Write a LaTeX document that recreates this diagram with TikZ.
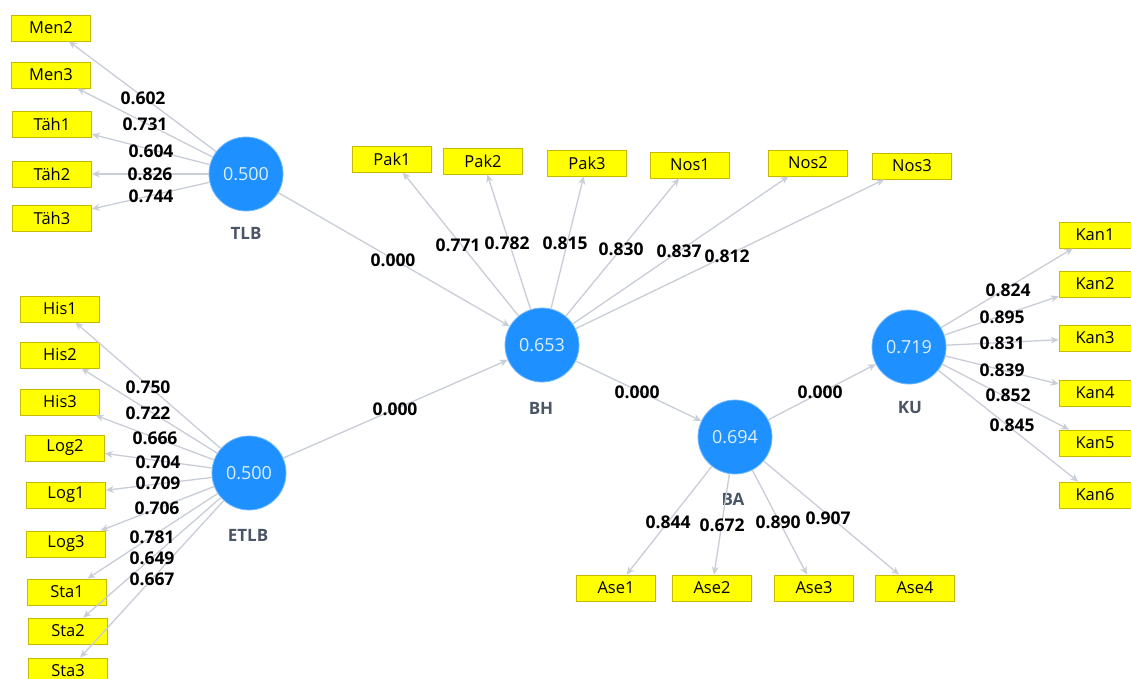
\documentclass[tikz,border=0pt]{standalone}
\usepackage{fontspec}
\setmainfont{Open Sans}
\usetikzlibrary{arrows.meta}
\definecolor{lv}{HTML}{1E90FF}
\definecolor{lvrim}{HTML}{6FB8FF}
\definecolor{ln}{HTML}{C8CDD8}
\definecolor{indy}{HTML}{FFFF00}
\definecolor{indb}{HTML}{C9B800}
\definecolor{lvlab}{HTML}{4A5565}
\definecolor{cirtxt}{HTML}{DDEFFF}
\begin{document}
\begin{tikzpicture}[x=1pt,y=-1pt,
  lvnode/.style={circle,fill=lv,draw=lvrim,line width=0.8pt,minimum size=74pt,inner sep=0pt,text=cirtxt,font=\fontsize{18}{20}\selectfont},
  indbox/.style={rectangle,fill=indy,draw=indb,line width=0.8pt,minimum width=79pt,minimum height=26pt,inner sep=0pt,font=\fontsize{16.5}{18}\selectfont},
  kanbox/.style={indbox,minimum width=72pt},
  lvname/.style={text=lvlab,font=\fontsize{17}{19}\selectfont\bfseries},
  coef/.style={text=black,inner sep=0pt,font=\fontsize{17.5}{19}\selectfont\bfseries},
  conn/.style={draw=ln,line width=1.3pt,-{Stealth[length=8pt,width=7pt]}},
]
\useasboundingbox[fill=white] (0,0) rectangle (1131,679);

% latent variables
\node[lvnode] (TLB) at (246,174) {0.500};
\node[lvnode] (ETLB) at (249,473) {0.500};
\node[lvnode] (BH) at (542,345) {0.653};
\node[lvnode] (BA) at (735,437) {0.694};
\node[lvnode] (KU) at (909,347) {0.719};
\node[lvname] (nTLB) at (246,233) {TLB};
\node[lvname] (nETLB) at (248,535) {ETLB};
\node[lvname] (nBH) at (541,408) {BH};
\node[lvname] (nBA) at (733,499) {BA};
\node[lvname] (nKU) at (910,408) {KU};

% indicators
\node[indbox] (Men2) at (51,28) {Men2};
\node[indbox] (Men3) at (51,75) {Men3};
\node[indbox] (Tah1) at (52,124) {Täh1};
\node[indbox] (Tah2) at (52,174) {Täh2};
\node[indbox] (Tah3) at (52,218) {Täh3};

\node[indbox] (His1) at (60,309) {His1};
\node[indbox] (His2) at (60,355) {His2};
\node[indbox] (His3) at (60,402) {His3};
\node[indbox] (Log2) at (65,448) {Log2};
\node[indbox] (Log1) at (66,495) {Log1};
\node[indbox] (Log3) at (66,544) {Log3};
\node[indbox] (Sta1) at (67,592) {Sta1};
\node[indbox] (Sta2) at (68,631) {Sta2};
\node[indbox] (Sta3) at (68,671) {Sta3};

\node[indbox] (Pak1) at (392,159) {Pak1};
\node[indbox] (Pak2) at (483,161) {Pak2};
\node[indbox] (Pak3) at (587,163) {Pak3};
\node[indbox] (Nos1) at (690,165) {Nos1};
\node[indbox] (Nos2) at (808,163) {Nos2};
\node[indbox] (Nos3) at (912,166) {Nos3};

\node[kanbox] (Kan1) at (1095,235) {Kan1};
\node[kanbox] (Kan2) at (1095,284) {Kan2};
\node[kanbox] (Kan3) at (1095,338) {Kan3};
\node[kanbox] (Kan4) at (1095,393) {Kan4};
\node[kanbox] (Kan5) at (1095,443) {Kan5};
\node[kanbox] (Kan6) at (1095,495) {Kan6};

\node[indbox] (Ase1) at (616,588) {Ase1};
\node[indbox] (Ase2) at (712,588) {Ase2};
\node[indbox] (Ase3) at (814,588) {Ase3};
\node[indbox] (Ase4) at (915,588) {Ase4};

% connectors
\foreach \t in {Men2,Men3,Tah1,Tah2,Tah3} \draw[conn] (TLB) -- (\t);
\foreach \t in {His1,His2,His3,Log2,Log1,Log3,Sta1,Sta2,Sta3} \draw[conn] (ETLB) -- (\t);
\foreach \t in {Pak1,Pak2,Pak3,Nos1,Nos2,Nos3} \draw[conn] (BH) -- (\t);
\foreach \t in {Kan1,Kan2,Kan3,Kan4,Kan5,Kan6} \draw[conn] (KU) -- (\t);
\foreach \t in {Ase1,Ase2,Ase3,Ase4} \draw[conn] (BA) -- (\t);
\draw[conn] (TLB) -- (BH);
\draw[conn] (ETLB) -- (BH);
\draw[conn] (BH) -- (BA);
\draw[conn] (BA) -- (KU);

% coefficients
\node[coef] (c1) at (143,98) {0.602};
\node[coef] (c2) at (145,124) {0.731};
\node[coef] (c3) at (151,151) {0.604};
\node[coef] (c4) at (150,174) {0.826};
\node[coef] (c5) at (151,196) {0.744};

\node[coef] (e1) at (148,387) {0.750};
\node[coef] (e2) at (148,413) {0.722};
\node[coef] (e3) at (155,438) {0.666};
\node[coef] (e4) at (158,462) {0.704};
\node[coef] (e5) at (158,483) {0.709};
\node[coef] (e6) at (157,508) {0.706};
\node[coef] (e7) at (152,537) {0.781};
\node[coef] (e8) at (152,558) {0.649};
\node[coef] (e9) at (152,579) {0.667};

\node[coef] (p1) at (458,245) {0.771};
\node[coef] (p2) at (507,243) {0.782};
\node[coef] (p3) at (565,243) {0.815};
\node[coef] (p4) at (621,249) {0.830};
\node[coef] (p5) at (679,251) {0.837};
\node[coef] (p6) at (727,256) {0.812};

\node[coef] (k1) at (1008,290) {0.824};
\node[coef] (k2) at (1002,317) {0.895};
\node[coef] (k3) at (1002,343) {0.831};
\node[coef] (k4) at (1002,370) {0.839};
\node[coef] (k5) at (1008,395) {0.852};
\node[coef] (k6) at (1012,425) {0.845};

\node[coef] (a1) at (668,522) {0.844};
\node[coef] (a2) at (722,525) {0.672};
\node[coef] (a3) at (778,522) {0.890};
\node[coef] (a4) at (828,518) {0.907};

\node[coef] (s1) at (393,260) {0.000};
\node[coef] (s2) at (395,409) {0.000};
\node[coef] (s3) at (637,392) {0.000};
\node[coef] (s4) at (820,392) {0.000};
\end{tikzpicture}
\end{document}
